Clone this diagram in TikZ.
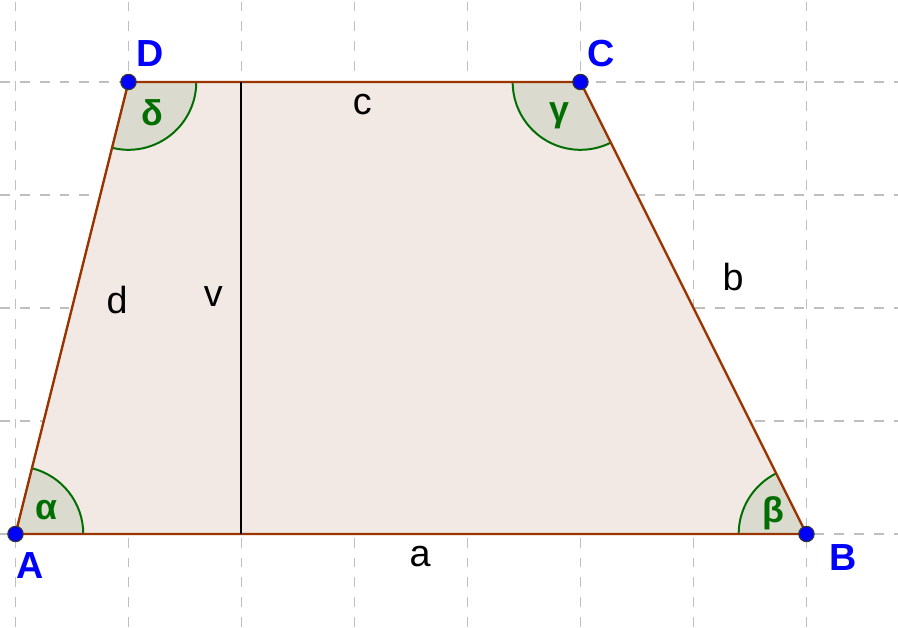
\documentclass[tikz,border=0pt]{standalone}
\usepackage{fontspec}
\setmainfont{Liberation Sans}
\usetikzlibrary{angles,quotes}
\definecolor{trapfill}{RGB}{242,233,228}
\definecolor{trapedge}{RGB}{153,51,0}
\definecolor{angfill}{RGB}{218,218,206}
\definecolor{anggreen}{RGB}{0,110,0}
\tikzset{
  gridline/.style={gray!50,dash pattern=on 2.5pt off 2.5pt,line width=0.4pt},
  ptdot/.style={circle,fill=blue,draw=black!80,line width=0.3pt,inner sep=0pt,minimum size=1.35mm},
  ptlabel/.style={text=blue,font=\bfseries\fontsize{9.5}{11}\selectfont},
  sidelabel/.style={font=\fontsize{9.5}{11}\selectfont},
  angpic/.style={draw=anggreen,fill=angfill,line width=0.5pt,angle radius=0.6cm,
    angle eccentricity=0.58,text=anggreen,font=\bfseries\fontsize{9}{10}\selectfont}
}
\begin{document}
\begin{tikzpicture}
\useasboundingbox (-0.137,-0.823) rectangle (7.81,4.726);
% grid
\foreach \x in {0,...,7} \draw[gridline] (\x,-0.823)--(\x,4.726);
\foreach \y in {0,...,4} \draw[gridline] (-0.137,\y)--(7.81,\y);
\coordinate (A) at (0,0);
\coordinate (B) at (7,0);
\coordinate (C) at (5,4);
\coordinate (D) at (1,4);
\coordinate (V) at (2,4);
\coordinate (H) at (2,0);
\fill[trapfill] (A)--(B)--(C)--(D)--cycle;
\pic[angpic,"α"] {angle=B--A--D};
\pic[angpic,"β"] {angle=C--B--A};
\pic[angpic,"γ"] {angle=D--C--B};
\pic[angpic,"δ"] {angle=A--D--C};
\draw[trapedge,line width=0.6pt] (A)--(B)--(C)--(D)--cycle;
\draw[black,line width=0.5pt] (V)--(H);
\foreach \p in {A,B,C,D} \node[ptdot] (dot\p) at (\p) {};
\node[ptlabel] (labA) at (0.13,-0.28) {A};
\node[ptlabel] (labB) at (7.32,-0.21) {B};
\node[ptlabel] (labC) at (5.18,4.25) {C};
\node[ptlabel] (labD) at (1.19,4.25) {D};
\node[sidelabel] (la) at (3.58,-0.2) {a};
\node[sidelabel] (lb) at (6.35,2.27) {b};
\node[sidelabel] (lc) at (3.07,3.8) {c};
\node[sidelabel] (ld) at (0.9,2.07) {d};
\node[sidelabel] (lv) at (1.75,2.1) {v};
\end{tikzpicture}
\end{document}
